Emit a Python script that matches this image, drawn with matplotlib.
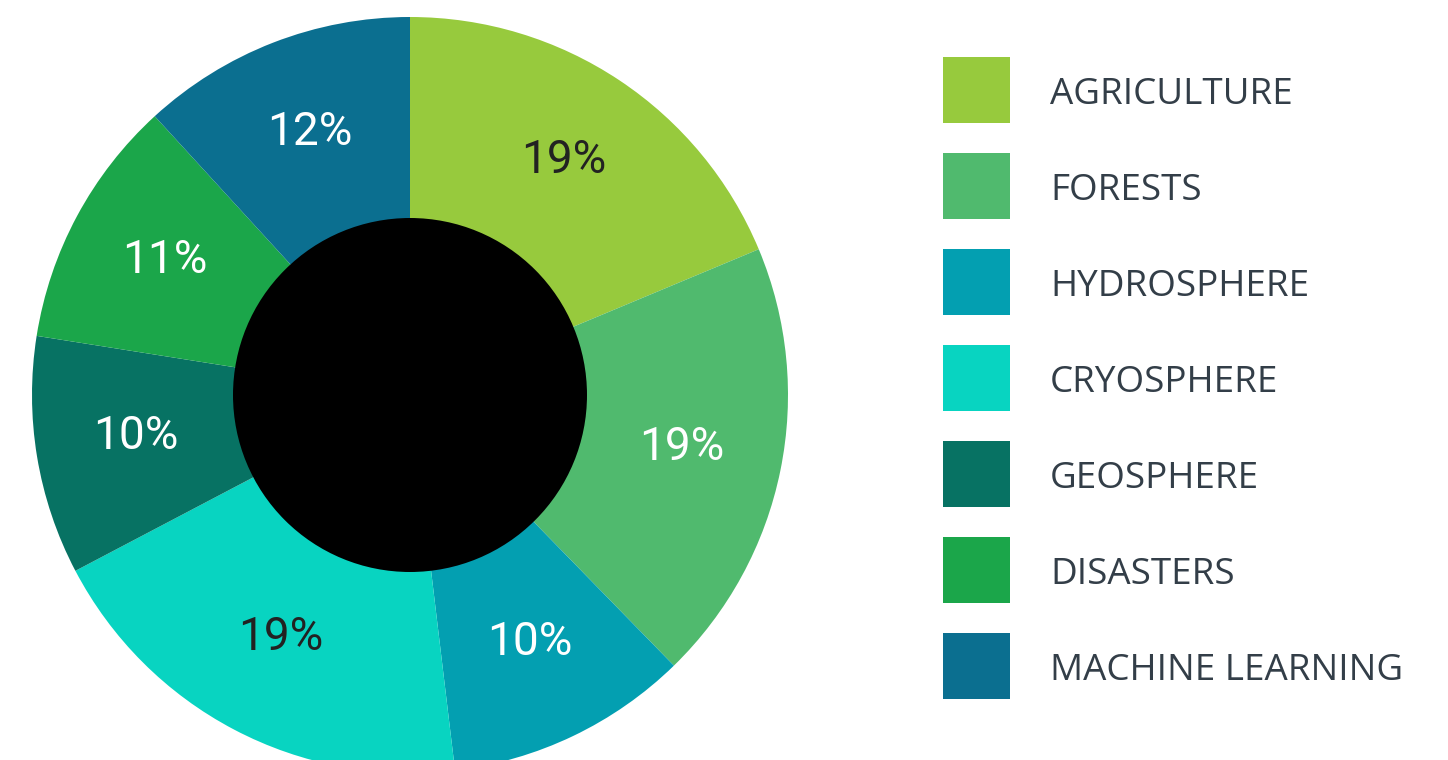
import matplotlib
matplotlib.use("Agg")
import matplotlib.pyplot as plt
from matplotlib.patches import Circle, Rectangle
import numpy as np

categories = ["AGRICULTURE", "FORESTS", "HYDROSPHERE", "CRYOSPHERE",
              "GEOSPHERE", "DISASTERS", "MACHINE LEARNING"]
values = [18.7, 19.0, 10.4, 19.2, 10.2, 10.7, 11.8]
colors = ["#97CA3D", "#50BA6E", "#039FB1", "#08D4C1", "#077263", "#1BA64A", "#0B6F90"]
label_colors = ["#222222", "white", "white", "#222222", "white", "white", "white"]

W, H = 1448, 760
fig = plt.figure(figsize=(W / 100, H / 100), dpi=100)
fig.patch.set_facecolor("white")

cx, cy, R = 410, 395, 378
ax = fig.add_axes([(cx - R) / W, (H - cy - R) / H, 2 * R / W, 2 * R / H])
wedges, texts = ax.pie(values, colors=colors, startangle=90, counterclock=False,
                       radius=1, wedgeprops=dict(linewidth=0))
ax.set_xlim(-1, 1)
ax.set_ylim(-1, 1)
ax.set_aspect("equal")
ax.axis("off")

total = sum(values)
for w, v, lc in zip(wedges, values, label_colors):
    ang = np.deg2rad((w.theta1 + w.theta2) / 2)
    d = 0.735
    ax.text(d * np.cos(ang), d * np.sin(ang) + 0.01, f"{round(100 * v / total)}%",
            ha="center", va="center", fontsize=33, color=lc,
            family=["Roboto", "DejaVu Sans"], fontstretch="condensed")
ax.add_patch(Circle((0, 0), 177 / R, facecolor="black", edgecolor="none", zorder=5))

# legend drawn in pixel coordinates
lax = fig.add_axes([0, 0, 1, 1])
lax.set_xlim(0, W)
lax.set_ylim(H, 0)
lax.axis("off")
lax.patch.set_alpha(0)
for i, (name, c) in enumerate(zip(categories, colors)):
    top = 57 + i * 96
    lax.add_patch(Rectangle((943, top), 67, 66, facecolor=c, edgecolor="none"))
    lax.text(1050, top + 33, name, ha="left", va="center_baseline",
             fontsize=26.5, color="#333E48", family=["Open Sans", "DejaVu Sans"])

fig.savefig("out.png", dpi=100, facecolor="white")
